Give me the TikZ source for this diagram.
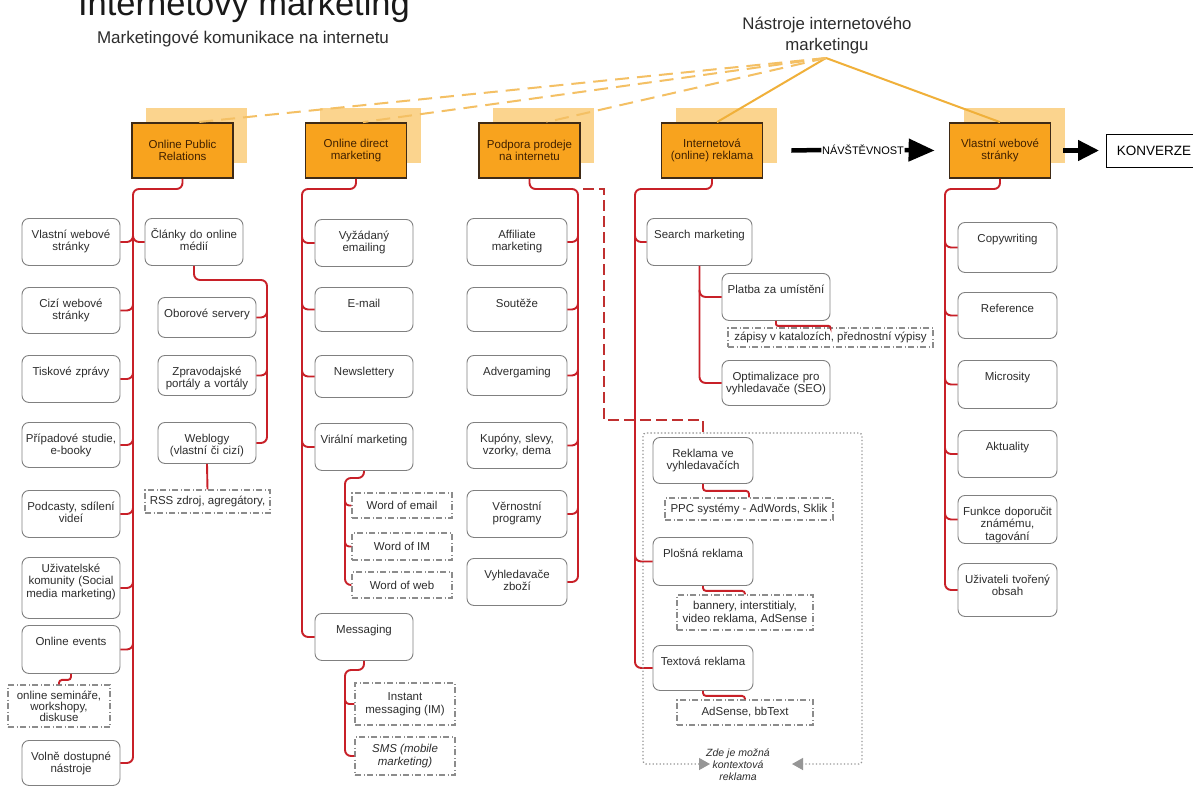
\documentclass[tikz,border=0pt]{standalone}
\usepackage{fontspec}
\setmainfont{Liberation Sans}
\usetikzlibrary{arrows.meta,shadows}
\definecolor{headfill}{RGB}{248,163,30}
\definecolor{headshade}{RGB}{251,212,142}
\definecolor{headline}{RGB}{62,42,22}
\definecolor{headtext}{RGB}{64,32,0}
\definecolor{boxline}{RGB}{128,128,128}
\definecolor{itemtext}{RGB}{45,45,45}
\definecolor{noteline}{RGB}{140,140,140}
\definecolor{linkred}{RGB}{200,32,40}
\definecolor{dashred}{RGB}{192,48,48}
\definecolor{toolor}{RGB}{240,176,58}
\definecolor{tooldashor}{RGB}{244,192,100}
\definecolor{framegray}{RGB}{150,150,150}
\definecolor{titletext}{RGB}{25,25,25}
\definecolor{subtext}{RGB}{45,45,45}
\newcommand{\itemsize}{\fontsize{11.5}{12.5}\selectfont}
\begin{document}
\begin{tikzpicture}[x=1pt, y=-1pt, font=\itemsize,
  head/.style={rectangle, draw=headline, line width=1.8pt, fill=headfill,
    text=headtext, align=center, inner sep=2pt,
    minimum width=101pt, minimum height=55pt,
    general shadow={fill=headshade, shadow xshift=14pt, shadow yshift=15pt}},
  item/.style={rectangle, draw=boxline, line width=0.9pt, rounded corners=7pt,
    fill=white, text=itemtext, align=center, anchor=north,
    text width=94pt, inner xsep=2pt, inner ysep=0pt,
    text height=20pt, text depth=#1pt-20pt},
  boxw/.style={text width=#1pt-4pt},
  note/.style={rectangle, draw=noteline, line width=1.1pt,
    dash pattern=on 6pt off 2.5pt on 1pt off 2.5pt,
    fill=white, text=itemtext, align=center, inner sep=1pt},
  conn/.style={draw=linkred, line width=1.9pt, rounded corners=6pt},
  reddash/.style={draw=dashred, line width=2.4pt, dash pattern=on 11pt off 5pt},
  toolline/.style={draw=toolor, line width=2pt},
  tooldash/.style={draw=tooldashor, line width=2pt, dash pattern=on 14pt off 8pt},
  fat/.style={draw=black, line width=4.5pt},
  ctxframe/.style={draw=framegray, line width=1.3pt, dash pattern=on 1.3pt off 2.2pt, rounded corners=3pt}]
  \path[use as bounding box, fill=white] (0,0) rectangle (1193,785);

  \node[anchor=base, font=\fontsize{34.5}{40}\selectfont, text=titletext] (title) at (244,15) {Internetový marketing};
  \node[anchor=base, font=\fontsize{17}{20}\selectfont, text=subtext] (subtitle) at (243,43) {Marketingové komunikace na internetu};
  \node[anchor=south, inner sep=0pt, align=center, font=\fontsize{16.8}{21}\selectfont, text=subtext] (tools) at (827,54) {Nástroje internetového\\marketingu};
  \node[coordinate] (apex) at (826,58) {};

  \node[head] (opr) at (182.5,150.5) {Online Public\\Relations};
  \node[head] (odm) at (356,150.5) {Online direct\\marketing};
  \node[head] (ppi) at (529.5,150.5) {Podpora prodeje\\na internetu};
  \node[head] (ior) at (712,150.5) {Internetová\\(online) reklama};
  \node[head] (vws) at (1000,150.5) {Vlastní webové\\stránky};
  \node[draw=black, line width=1pt, anchor=west, minimum width=95pt, minimum height=33pt,
    font=\fontsize{13.5}{16}\selectfont] (konv) at (1106,150.5) {KONVERZE};
  \node[inner sep=0.5pt, font=\fontsize{11}{13}\selectfont] (visit) at (863,150) {NÁVŠTĚVNOST};

  \draw[toolline] (apex) -- ([xshift=5pt]ior.north);
  \draw[toolline] (apex) -- (vws.north);
  \draw[tooldash] (apex) -- ([xshift=15pt]opr.north);
  \draw[tooldash] (apex) -- ([xshift=7pt]odm.north);
  \draw[tooldash] (apex) -- ([xshift=17pt]ppi.north);

  \draw[fat] ([xshift=28pt]ior.east) -- (visit.west);
  \draw[fat, -{Triangle[length=26pt, width=22pt]}] (visit.east) -- ([xshift=-14pt]vws.west);
  \draw[fat, -{Triangle[length=21pt, width=20pt]}] ([xshift=12pt]vws.east) -- ([xshift=-7pt]konv.west);

  \node[item=47] (web1) at (71,218) {Vlastní webové\\stránky};
  \node[item=46] (cizi) at (71,287) {Cizí webové\\stránky};
  \node[item=47] (tisk) at (71,355) {Tiskové zprávy};
  \node[item=45] (pripad) at (71,422) {Případové studie,\\e-booky};
  \node[item=47] (podcast) at (71,490) {Podcasty, sdílení\\videí};
  \node[item=61, text height=15pt, text depth=46pt] (komunity) at (71,557) {Uživatelské\\komunity (Social\\media marketing)};
  \node[item=48] (events) at (71,625) {Online events};
  \node[note, minimum width=102pt, minimum height=42pt, font=\fontsize{11.5}{11}\selectfont] (seminare) at (59,706) {online semináře,\\workshopy,\\diskuse};
  \node[item=45] (volne) at (71,740) {Volně dostupné\\nástroje};

  \node[item=47] (clanky) at (194,218) {Články do online\\médií};
  \node[item=40] (oborove) at (207,297) {Oborové servery};
  \node[item=40] (zprav) at (207,355) {Zpravodajské\\portály a vortály};
  \node[item=41] (weblogy) at (207,422) {Weblogy\\(vlastní či cizí)};
  \node[note, minimum width=125pt, minimum height=23pt] (rss) at (207.5,501.5) {RSS zdroj, agregátory,};

  \node[item=47] (vyzad) at (364,219) {Vyžádaný\\emailing};
  \node[item=44] (email) at (364,287) {E-mail};
  \node[item=42] (news) at (364,355) {Newslettery};
  \node[item=47] (viral) at (364,423) {Virální marketing};
  \node[note, minimum width=100pt, minimum height=25pt] (wemail) at (402,505.5) {Word of email};
  \node[note, minimum width=100pt, minimum height=27pt] (wim) at (402,546.5) {Word of IM};
  \node[note, minimum width=100pt, minimum height=26pt] (wweb) at (402,585) {Word of web};
  \node[item=47] (msg) at (364,613) {Messaging};
  \node[note, minimum width=100pt, minimum height=42pt] (im) at (405,704) {Instant\\messaging (IM)};
  \node[note, minimum width=100pt, minimum height=38pt, font=\itemsize\itshape] (sms) at (405,756) {SMS (mobile\\marketing)};

  \node[item=47, boxw=100] (affil) at (517,218) {Affiliate\\marketing};
  \node[item=44, boxw=100] (soutez) at (517,287) {Soutěže};
  \node[item=40, boxw=100] (adver) at (517,355) {Advergaming};
  \node[item=46, boxw=100] (kupon) at (517,422) {Kupóny, slevy,\\vzorky, dema};
  \node[item=47, boxw=100] (vernost) at (517,490) {Věrnostní\\programy};
  \node[item=47, boxw=100] (vyhled) at (517,558) {Vyhledavače\\zboží};

  \node[item=47, boxw=105] (search) at (699.5,218) {Search marketing};
  \node[item=47, boxw=108] (platba) at (776,273) {Platba za umístění};
  \node[note, minimum width=205pt, minimum height=19pt] (zapisy) at (830.5,337.5) {zápisy v katalozích, přednostní výpisy};
  \node[item=45, text width=106pt, inner xsep=1pt] (seo) at (776,360) {Optimalizace pro\\vyhledavače (SEO)};
  \node[item=46, boxw=100] (rv) at (703,437) {Reklama ve\\vyhledavačích};
  \node[note, minimum width=168pt, minimum height=22pt] (ppc) at (749,509) {PPC systémy - AdWords, Sklik};
  \node[item=48, boxw=100] (plosna) at (703,537) {Plošná reklama};
  \node[note, minimum width=136pt, minimum height=35pt] (bannery) at (745,612.5) {bannery, interstitialy,\\video reklama, AdSense};
  \node[item=45, boxw=100] (textova) at (703,645) {Textová reklama};
  \node[note, minimum width=136pt, minimum height=25pt] (adsense) at (745,712.5) {AdSense, bbText};
  \node[align=center, inner sep=1pt, text=itemtext, font=\fontsize{10.5}{12}\selectfont\itshape] (ctx) at (738,765) {Zde je možná\\kontextová\\reklama};

  \node[item=50, boxw=99] (copy) at (1007.5,222) {Copywriting};
  \node[item=46, boxw=99] (refer) at (1007.5,292) {Reference};
  \node[item=48, boxw=99] (micro) at (1007.5,360) {Microsity};
  \node[item=47, boxw=99] (aktual) at (1007.5,430) {Aktuality};
  \node[item=48, boxw=99] (funkce) at (1007.5,495) {Funkce doporučit\\známému,\\tagování};
  \node[item=53, boxw=99] (ugc) at (1007.5,563) {Uživateli tvořený\\obsah};

  \node[coordinate] (oprT) at (133,189) {};
  \node[coordinate] (clT) at (267,280) {};
  \node[coordinate] (odmT) at (302,189) {};
  \node[coordinate] (viT) at (345,478) {};
  \node[coordinate] (msT) at (345,670) {};
  \node[coordinate] (ppiT) at (578,189) {};
  \node[coordinate] (iorT) at (635,189) {};
  \node[coordinate] (vwsT) at (945,189) {};

  \draw[conn] (opr.south) |- (oprT) -- (volne.east -| oprT) -- (volne.east);
  \foreach \b in {web1,cizi,tisk,pripad,podcast,komunity,events}
    \draw[conn] (\b.east) -- (\b.east -| oprT) -- ++(0,-7);
  \draw[conn] (clanky.west) -- (clanky.west -| oprT) -- ++(0,-7);
  \draw[conn] (clanky.south) |- (clT) -- (weblogy.east -| clT) -- (weblogy.east);
  \foreach \b in {oborove,zprav}
    \draw[conn] (\b.east) -- (\b.east -| clT) -- ++(0,-7);
  \draw[conn] (weblogy.south) -- (rss.north);
  \draw[conn, rounded corners=3pt] (events.south) -- ++(0,6) -| (seminare.north);

  \draw[conn] (odm.south) |- (odmT) -- (msg.west -| odmT) -- (msg.west);
  \foreach \b in {vyzad,email,news,viral}
    \draw[conn] (\b.west) -- (\b.west -| odmT) -- ++(0,-7);
  \draw[conn] (viral.south) |- (viT) -- (wweb.west -| viT) -- (wweb.west);
  \foreach \b in {wemail,wim}
    \draw[conn, rounded corners=4pt] (\b.west) -- (\b.west -| viT) -- ++(0,-7);
  \draw[conn] (msg.south) |- (msT) -- (sms.west -| msT) -- (sms.west);
  \draw[conn, rounded corners=4pt] (im.west) -- (im.west -| msT) -- ++(0,-7);

  \draw[conn] (ppi.south) |- (ppiT) -- (vyhled.east -| ppiT) -- (vyhled.east);
  \foreach \b in {affil,soutez,adver,kupon,vernost}
    \draw[conn] (\b.east) -- (\b.east -| ppiT) -- ++(0,-7);

  \draw[conn] (ior.south) |- (iorT) -- (textova.west -| iorT) -- (textova.west);
  \foreach \b in {search,plosna}
    \draw[conn] (\b.west) -- (\b.west -| iorT) -- ++(0,-7);
  \draw[conn] (search.south) -- (seo.west -| search.south) -- (seo.west);
  \draw[conn] (platba.west) -- (platba.west -| search.south) -- ++(0,-7);
  \draw[conn, rounded corners=2pt] (platba.south) -- ++(0,5) -| (zapisy.north);
  \draw[conn, rounded corners=3pt] (rv.south) -- ++(0,7) -| (ppc.north);
  \draw[conn, rounded corners=3pt] (plosna.south) -- ++(0,5) -| (bannery.north);
  \draw[conn, rounded corners=3pt] (textova.south) -- ++(0,5) -| (adsense.north);
  \draw[reddash] ([xshift=5pt]ppiT) -| (604,420) -| (rv.north);

  \draw[conn] (vws.south) |- (vwsT) -- (ugc.west -| vwsT) -- (ugc.west);
  \foreach \b in {copy,refer,micro,aktual,funkce}
    \draw[conn] (\b.west) -- (\b.west -| vwsT) -- ++(0,-7);

  \draw[ctxframe, {Triangle[length=11pt, width=12pt]}-{Triangle[length=11pt, width=12pt]}]
    (710,764) -- (643,764) -- (643,433) -- (862,433) -- (862,764) -- (792,764);
\end{tikzpicture}
\end{document}
